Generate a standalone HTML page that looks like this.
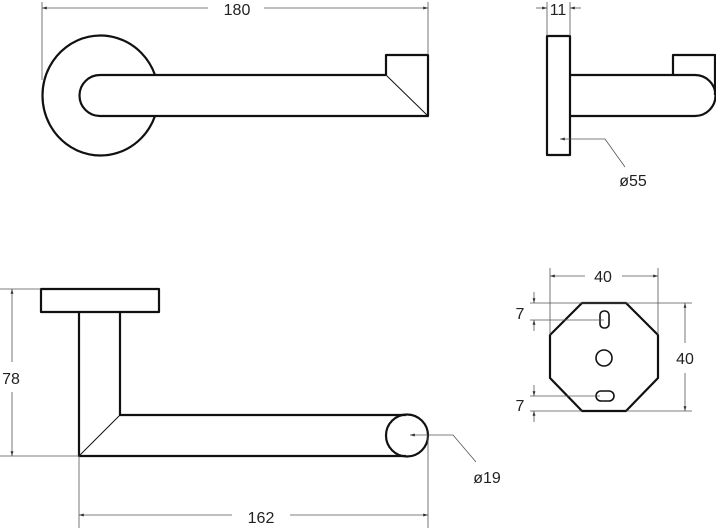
<!DOCTYPE html>
<html><head><meta charset="utf-8"><style>html,body{margin:0;padding:0;background:#fff}svg{display:block}</style></head>
<body>
<svg width="716" height="528" viewBox="0 0 716 528" xmlns="http://www.w3.org/2000/svg">
<defs>
<marker id="a" viewBox="0 0 10 10" refX="10" refY="5" markerWidth="6" markerHeight="6" orient="auto-start-reverse"><path d="M0,2 L10,5 L0,8 z" fill="#333"/></marker>
</defs>
<g fill="none" stroke="#111" stroke-width="2.2" stroke-linejoin="round">
<path d="M155,75 A58,60 0 1 0 155,116"/>
<path d="M386,75 L100,75 A20.5,20.5 0 0 0 100,116 L428,116 L428,55 L386,55 L386,75"/>
<rect x="547" y="36" width="23" height="119"/>
<path d="M570,75 L695,75 A20.5,20.5 0 0 1 695,116 L570,116"/>
<path d="M673,75 L673,55 L715,55 L715,95"/>
<rect x="41" y="289" width="118" height="23"/>
<path d="M79,312 L79,456 L406,456 M120,312 L120,415 L406,415"/>
<circle cx="407" cy="435.5" r="21"/>
<polygon points="582,303 626,303 658,335 658,378 626,411 582,411 550,378 550,335"/>
<circle cx="604" cy="358" r="8" stroke-width="1.6"/>
<rect x="600" y="311" width="9" height="17" rx="4" stroke-width="1.6"/>
<rect x="596" y="391" width="18" height="10" rx="5" stroke-width="1.6"/>
</g>
<g fill="none" stroke="#111" stroke-width="1">
<line x1="386" y1="75" x2="428" y2="116"/>
<line x1="79" y1="456" x2="120" y2="415"/>
</g>
<g fill="none" stroke="#555" stroke-width="0.8">
<line x1="42" y1="2" x2="42" y2="80"/><line x1="428" y1="2" x2="428" y2="55"/>
<line x1="42" y1="8" x2="208" y2="8" marker-start="url(#a)"/><line x1="264" y1="8" x2="428" y2="8" marker-end="url(#a)"/>
<line x1="547" y1="2" x2="547" y2="36"/><line x1="570" y1="2" x2="570" y2="36"/>
<line x1="536" y1="8" x2="547" y2="8" marker-end="url(#a)"/><line x1="581" y1="8" x2="570" y2="8" marker-end="url(#a)"/>
<polyline points="560,139 605,139 625,167" marker-start="url(#a)"/>
<line x1="0" y1="289" x2="41" y2="289"/><line x1="0" y1="456" x2="79" y2="456"/>
<line x1="12" y1="289" x2="12" y2="362" marker-start="url(#a)"/><line x1="12" y1="392" x2="12" y2="456" marker-end="url(#a)"/>
<line x1="79" y1="456" x2="79" y2="528"/><line x1="428" y1="436" x2="428" y2="528"/>
<line x1="79" y1="515" x2="232" y2="515" marker-start="url(#a)"/><line x1="290" y1="515" x2="428" y2="515" marker-end="url(#a)"/>
<polyline points="410,435 453,435 476,462" marker-start="url(#a)"/>
<line x1="550" y1="268" x2="550" y2="335"/><line x1="658" y1="268" x2="658" y2="335"/>
<line x1="550" y1="276" x2="585" y2="276" marker-start="url(#a)"/><line x1="622" y1="276" x2="658" y2="276" marker-end="url(#a)"/>
<line x1="582" y1="303" x2="692" y2="303"/><line x1="626" y1="411" x2="692" y2="411"/>
<line x1="685" y1="303" x2="685" y2="343" marker-start="url(#a)"/><line x1="685" y1="373" x2="685" y2="411" marker-end="url(#a)"/>
<line x1="530" y1="303" x2="582" y2="303"/><line x1="530" y1="320" x2="604" y2="320"/>
<line x1="534" y1="292" x2="534" y2="303" marker-end="url(#a)"/><line x1="534" y1="331" x2="534" y2="320" marker-end="url(#a)"/>
<line x1="530" y1="396" x2="600" y2="396"/><line x1="530" y1="411" x2="582" y2="411"/>
<line x1="534" y1="385" x2="534" y2="396" marker-end="url(#a)"/><line x1="534" y1="422" x2="534" y2="411" marker-end="url(#a)"/>
</g>
<g font-family="Liberation Sans, DejaVu Sans, sans-serif" font-size="16" fill="#222" text-anchor="middle">
<text x="237" y="15">180</text>
<text x="558" y="15">11</text>
<text x="633" y="186">ø55</text>
<text x="11" y="384">78</text>
<text x="261" y="523">162</text>
<text x="487" y="483">ø19</text>
<text x="603" y="282">40</text>
<text x="685" y="364">40</text>
<text x="520" y="319">7</text>
<text x="520" y="411">7</text>
</g>
</svg>
</body></html>
